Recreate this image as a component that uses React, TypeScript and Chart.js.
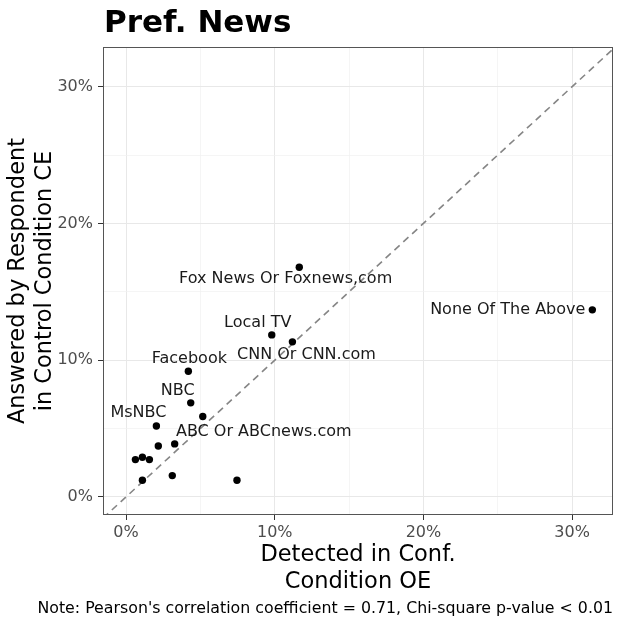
import React, { useEffect, useRef } from 'react';
import { Chart, registerables } from 'chart.js';

Chart.register(...registerables);

const TITLE = 'Pref. News';
const X_TITLE = ['Detected in Conf.', 'Condition OE'];
const Y_TITLE = ['Answered by Respondent', 'in Control Condition CE'];
const NOTE = "Note: Pearson's correlation coefficient = 0.71, Chi-square p-value < 0.01";

// One entry per news source (empty name = unlabelled point)
const SOURCES = [
  'Fox News Or Foxnews,com',
  'None Of The Above',
  'Local TV',
  'CNN Or CNN.com',
  'Facebook',
  'NBC',
  'ABC Or ABCnews.com',
  'MsNBC',
  '', '', '', '', '', '', '', '',
];
// Detected in Conf. Condition OE (%)
const DETECTED_OE = [11.65, 31.36, 9.8, 11.19, 4.19, 4.35, 5.16, 2.04, 2.17, 3.27, 0.63, 1.1, 1.57, 1.1, 3.11, 7.46];
// Answered by Respondent in Control Condition CE (%)
const ANSWERED_CE = [16.8, 13.68, 11.85, 11.34, 9.19, 6.88, 5.88, 5.19, 3.73, 3.88, 2.73, 2.9, 2.73, 1.22, 1.56, 1.22];

const X_LIMITS = [-1.55, 32.75];
const Y_LIMITS = [-1.32, 32.9];
const MINOR_STEP = 5;
const MAJOR_STEP = 10;

// label placement (pixel offsets from the point, like ggrepel output)
const LABEL_DX = [-13.6, -7, -14, 14, 1, -13, 61, -18];
const LABEL_DY = [12, 0, -11.7, 13, -12, -12, 15, -12.7];
const LABEL_ALIGN = ['center', 'right', 'center', 'center', 'center', 'center', 'center', 'center'];

const FONT = "'DejaVu Sans', 'Liberation Sans', sans-serif";

const isMajor = (v: number) => Math.abs(v % MAJOR_STEP) < 1e-9;

const decorPlugin = {
  id: 'decor',
  afterDatasetsDraw(chart: any) {
    const { ctx } = chart;
    const meta = chart.getDatasetMeta(0);
    ctx.save();
    ctx.font = `16px ${FONT}`;
    ctx.fillStyle = '#1a1a1a';
    ctx.textBaseline = 'middle';
    SOURCES.forEach((name, i) => {
      if (!name) return;
      const el = meta.data[i];
      ctx.textAlign = LABEL_ALIGN[i] as CanvasTextAlign;
      ctx.fillText(name, el.x + LABEL_DX[i], el.y + LABEL_DY[i]);
    });
    ctx.restore();
  },
  afterDraw(chart: any) {
    const { ctx, chartArea: a } = chart;
    ctx.save();
    ctx.strokeStyle = '#555555';
    ctx.lineWidth = 1;
    ctx.strokeRect(Math.round(a.left) + 0.5, Math.round(a.top) + 0.5, Math.round(a.right - a.left) - 1, Math.round(a.bottom - a.top) - 1);
    ctx.fillStyle = '#000000';
    ctx.textBaseline = 'alphabetic';
    ctx.textAlign = 'left';
    ctx.font = `bold 31px ${FONT}`;
    ctx.fillText(TITLE, a.left + 1, 31.5);
    ctx.font = `15.8px ${FONT}`;
    ctx.textAlign = 'right';
    ctx.fillText(NOTE, a.right, 613);
    ctx.restore();
  },
};

export default function App() {
  const ref = useRef<HTMLCanvasElement>(null);
  useEffect(() => {
    document.body.style.margin = '0';
    const canvas = ref.current;
    if (!canvas) return;
    const points = DETECTED_OE.map((x, i) => ({ x, y: ANSWERED_CE[i] }));
    const diag = [
      { x: Math.min(X_LIMITS[0], Y_LIMITS[0]), y: Math.min(X_LIMITS[0], Y_LIMITS[0]) },
      { x: Math.max(X_LIMITS[1], Y_LIMITS[1]), y: Math.max(X_LIMITS[1], Y_LIMITS[1]) },
    ];
    const gridCfg = {
      color: (c: any) => (c.tick && isMajor(c.tick.value) ? '#e8e8e8' : '#f0f0f0'),
      lineWidth: (c: any) => (c.tick && isMajor(c.tick.value) ? 1 : 0.7),
      tickColor: (c: any) => (c.tick && isMajor(c.tick.value) ? '#333333' : 'rgba(0,0,0,0)'),
      tickWidth: 1,
      tickLength: 5,
      drawTicks: true,
    };
    const tickCb = (v: any) => (isMajor(Number(v)) ? `${Math.round(Number(v))}%` : '');
    const chart = new Chart(canvas, {
      type: 'scatter',
      data: {
        datasets: [
          {
            data: points,
            backgroundColor: '#000000',
            borderWidth: 0,
            pointRadius: 3.7,
            order: 1,
          },
          {
            data: diag,
            showLine: true,
            borderColor: '#858585',
            borderWidth: 1.6,
            borderDash: [7, 5],
            pointRadius: 0,
            order: 2,
          } as any,
        ],
      },
      options: {
        animation: false,
        responsive: false,
        layout: { padding: { top: 47, right: 12, bottom: 26, left: 0 } },
        plugins: { legend: { display: false }, tooltip: { enabled: false }, title: { display: false } },
        scales: {
          x: {
            type: 'linear',
            min: X_LIMITS[0],
            max: X_LIMITS[1],
            grid: gridCfg as any,
            border: { display: false },
            ticks: {
              stepSize: MINOR_STEP,
              includeBounds: false,
              autoSkip: false,
              maxRotation: 0,
              padding: 3,
              color: '#4d4d4d',
              font: { family: FONT, size: 16 },
              callback: tickCb,
            },
            title: {
              display: true,
              text: X_TITLE,
              color: '#000000',
              font: { family: FONT, size: 22.5, lineHeight: 1.22 },
              padding: { top: 0, bottom: 0 },
            },
            afterFit: (s: any) => {
              s.height = 81;
            },
          },
          y: {
            type: 'linear',
            min: Y_LIMITS[0],
            max: Y_LIMITS[1],
            grid: gridCfg as any,
            border: { display: false },
            ticks: {
              stepSize: MINOR_STEP,
              includeBounds: false,
              autoSkip: false,
              padding: 5,
              color: '#4d4d4d',
              font: { family: FONT, size: 16 },
              callback: tickCb,
            },
            title: {
              display: true,
              text: Y_TITLE,
              color: '#000000',
              font: { family: FONT, size: 22.5, lineHeight: 1.22 },
              padding: { top: 4, bottom: 0 },
            },
            afterFit: (s: any) => {
              s.width = 103;
            },
          },
        },
      },
      plugins: [decorPlugin],
    });
    return () => chart.destroy();
  }, []);
  return (
    <div style={{ position: 'absolute', left: 0, top: 0, width: 625, height: 622, background: '#ffffff' }}>
      <canvas ref={ref} width={625} height={622} style={{ width: 625, height: 622, display: 'block' }} />
    </div>
  );
}
